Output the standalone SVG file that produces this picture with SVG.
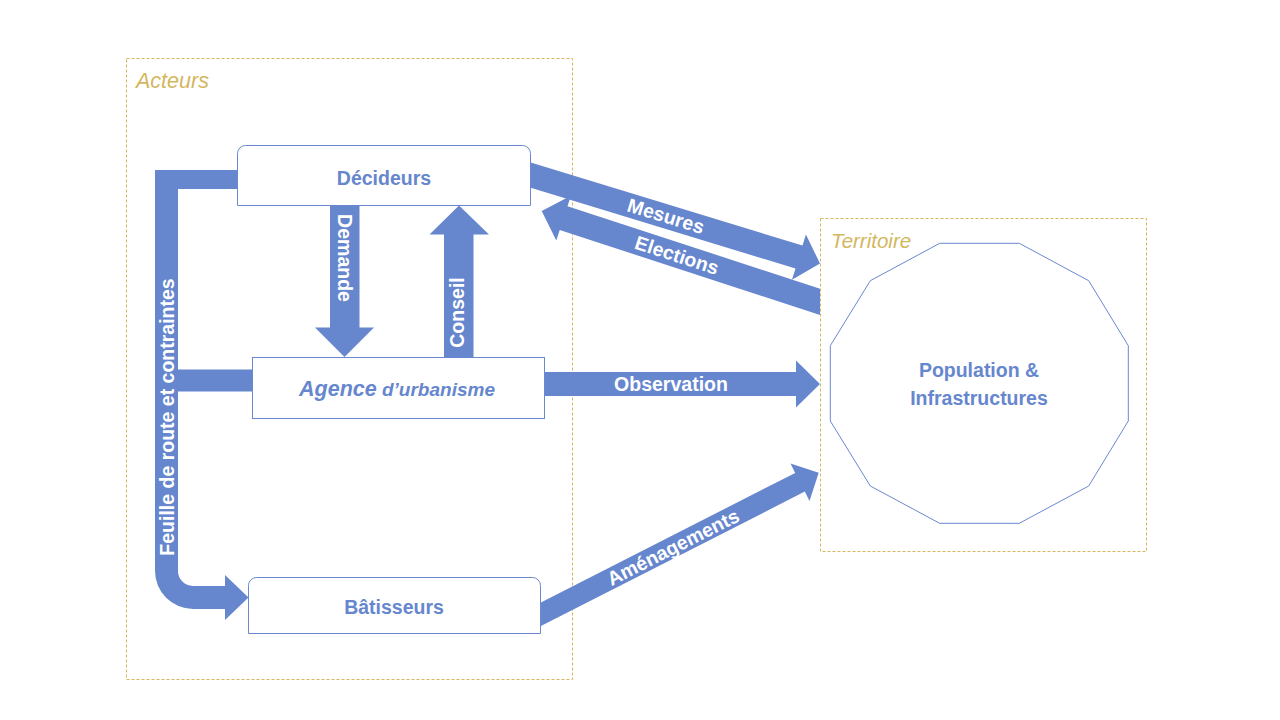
<svg xmlns="http://www.w3.org/2000/svg" width="1280" height="720" viewBox="0 0 1280 720">
<style>
.frame{fill:none;stroke:#D4B65E;stroke-width:1;stroke-dasharray:3 2}
.ftitle{font-family:"Liberation Sans",Arial,sans-serif;font-style:italic;fill:#D4B65E}
.arrow{fill:#6686CE;stroke:none}
.lbl{font-family:"Liberation Sans",Arial,sans-serif;font-weight:bold;font-size:19.5px;fill:#FFFFFF;text-anchor:middle}
.node{fill:#FFFFFF;stroke:#6A88D0;stroke-width:1}
.ntext{font-family:"Liberation Sans",Arial,sans-serif;font-weight:bold;font-size:19.5px;fill:#6686CE;text-anchor:middle}
</style>
<rect width="1280" height="720" fill="#FFFFFF"/>
<g id="acteurs">
<rect class="frame" x="126.5" y="58.5" width="446" height="621"/>
<text class="ftitle" x="136" y="88" font-size="21.5">Acteurs</text>
</g>
<g id="territoire">
<rect class="frame" x="820.5" y="218.5" width="326" height="333" fill="#FFFFFF"/>
<text class="ftitle" x="831" y="248" font-size="20.5">Territoire</text>
</g>
<g id="connectors">
<g id="feuille">
<path class="arrow" d="M155,170 H240 V189 H178 V369.5 H255 V391.5 H178 V571 A15,15 0 0 0 193,586 H225 V575 L248.5,597.5 L225,620 V609 H193 A38,38 0 0 1 155,571 Z"/>
<text class="lbl" transform="translate(167,417) rotate(-90)" x="0" y="7">Feuille de route et contraintes</text>
</g>
<g id="demande">
<polygon class="arrow" points="330,204 359.5,204 359.5,327.5 374,327.5 344.5,357 315,327.5 330,327.5"/>
<text class="lbl" transform="translate(344.5,258) rotate(90)" x="0" y="7">Demande</text>
</g>
<g id="conseil">
<polygon class="arrow" points="444,358 473.5,358 473.5,234.5 489,234.5 459,205.5 429.5,234.5 444,234.5"/>
<text class="lbl" transform="translate(457,312.5) rotate(-90)" x="0" y="7" font-size="19">Conseil</text>
</g>
<g id="mesures">
<polygon class="arrow" points="525,160.8 802.5,245.6 805.9,234.4 820,263.5 792,279.7 795.5,268.6 525,185.9"/>
<text class="lbl" transform="translate(666,215.8) rotate(17)" x="0" y="7">Mesures</text>
</g>
<g id="elections">
<polygon class="arrow" points="820,288.7 567.5,206.2 570.9,195.8 541.7,211 556.3,240.5 559.7,230 820,315"/>
<text class="lbl" transform="translate(677,255) rotate(18)" x="0" y="7">Elections</text>
</g>
<g id="observation">
<polygon class="arrow" points="540,372 796,372 796,360.5 820,384 796,407.5 796,396 540,396"/>
<text class="lbl" x="671" y="391">Observation</text>
</g>
<g id="amenagements">
<polygon class="arrow" points="535,605.5 795.2,472.9 790.5,463.5 818.7,472.7 809.5,500.9 804.8,491.6 535,629"/>
<text class="lbl" transform="translate(673,547) rotate(-27)" x="0" y="7" font-size="20">Aménagements</text>
</g>
</g>
<g id="decideurs">
<path class="node" d="M237.5,205.5 V153.5 A8,8 0 0 1 245.5,145.5 H522.5 A8,8 0 0 1 530.5,153.5 V205.5 Z"/>
<text class="ntext" x="384" y="184.5">Décideurs</text>
</g>
<g id="agence">
<rect class="node" x="252.5" y="357.5" width="292" height="61"/>
<text class="ntext" x="397" y="396" font-style="italic"><tspan font-size="21.5">Agence</tspan><tspan font-size="19"> d’urbanisme</tspan></text>
</g>
<g id="batisseurs">
<path class="node" d="M248.5,633.5 V585.5 A8,8 0 0 1 256.5,577.5 H532.5 A8,8 0 0 1 540.5,585.5 V633.5 Z"/>
<text class="ntext" x="394" y="614">Bâtisseurs</text>
</g>
<g id="population">
<polygon class="node" points="939.7,243.3 1019.3,243.3 1088.7,280.7 1128.3,345.7 1128.3,421 1088.7,486 1019.3,523.3 939.7,523.3 870.3,486 830.3,421 830.3,345.7 870.3,280.7"/>
<text class="ntext" x="979" y="376.5">Population &amp;</text>
<text class="ntext" x="979" y="405">Infrastructures</text>
</g>
</svg>
